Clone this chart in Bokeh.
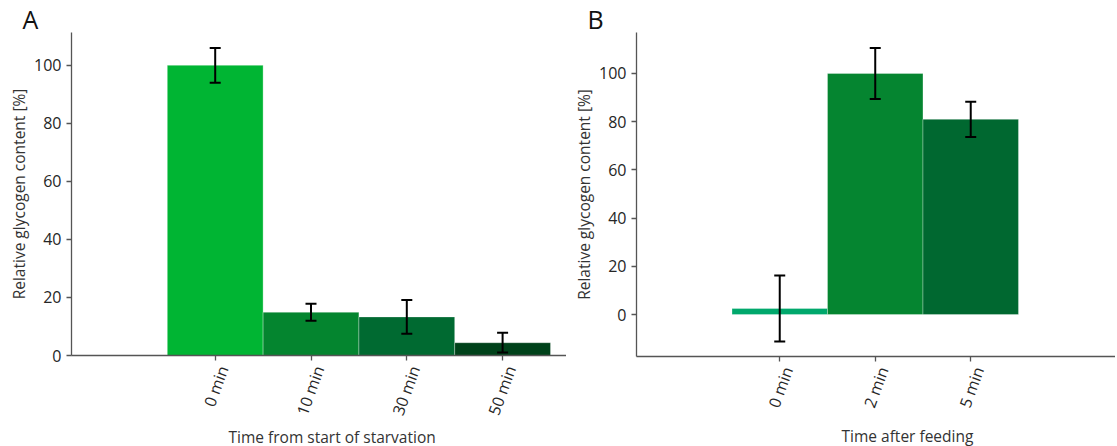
import math
from bokeh.plotting import figure
from bokeh.models import (ColumnDataSource, Whisker, TeeHead, FixedTicker, Range1d,
                          LinearAxis, Title)
from bokeh.layouts import row
from bokeh.embed import file_html
from bokeh.resources import INLINE

# Panel A data
cats_a = ["0 min", "10 min", "30 min", "50 min"]
vals_a = [100.0, 14.9, 13.3, 4.4]
err_a = [6.0, 2.9, 5.8, 3.4]
colors_a = ["#00b533", "#04852f", "#006a31", "#00421a"]

# Panel B data
cats_b = ["0 min", "2 min", "5 min"]
vals_b = [2.5, 100.0, 81.0]
err_b = [13.7, 10.6, 7.3]
colors_b = ["#00a86c", "#058530", "#006830"]

yticks = [0, 20, 40, 60, 80, 100]

FONT = "Open Sans"
TXT = "#262626"
AXC = "#555555"


def style_axis(ax):
    ax.axis_line_color = AXC
    ax.axis_line_width = 1.3
    ax.major_tick_line_color = AXC
    ax.major_tick_line_width = 1.3
    ax.major_tick_out = 5
    ax.major_tick_in = 0
    ax.minor_tick_line_color = None
    ax.major_label_text_font = FONT
    ax.major_label_text_font_size = "16px"
    ax.major_label_text_color = TXT
    ax.axis_label_text_font = FONT
    ax.axis_label_text_font_size = "15.5px"
    ax.axis_label_text_font_style = "normal"
    ax.axis_label_text_color = "#333333"


def panel(cats, vals, errs, colors, xlabel, letter, frame_w, frame_h,
          x_end, y_start, y_end, left, right, xlab_offset, xlab_standoff):
    idx = list(range(len(cats)))
    src = ColumnDataSource(dict(
        x=idx, top=vals,
        upper=[v + e for v, e in zip(vals, errs)],
        lower=[v - e for v, e in zip(vals, errs)],
        color=colors))
    x_start = -1.5
    px_per_unit = frame_w / (x_end - x_start)
    d = 8.0 / px_per_unit
    p = figure(frame_width=frame_w, frame_height=frame_h,
               x_range=Range1d(x_start, x_end), y_range=Range1d(y_start, y_end),
               output_backend="svg", toolbar_location=None,
               min_border_left=left, min_border_right=right,
               min_border_top=32, min_border_bottom=4)
    p.extra_x_ranges = {"lab": Range1d(x_start - d, x_end - d)}
    p.vbar(x="x", top="top", bottom=0, width=1.0, fill_color="color",
           line_color="white", line_alpha=0.3, line_width=1, source=src)
    w = Whisker(source=src, base="x", upper="upper", lower="lower",
                line_color="black", line_width=2, level="overlay",
                upper_head=TeeHead(size=11, line_color="black", line_width=2),
                lower_head=TeeHead(size=11, line_color="black", line_width=2))
    p.add_layout(w)

    p.xgrid.visible = False
    p.ygrid.visible = False
    p.outline_line_color = None

    # main x axis: line and tick marks only (tick marks drawn as minor ticks)
    xa = p.xaxis[0]
    style_axis(xa)
    xa.ticker = FixedTicker(ticks=[], minor_ticks=idx)
    xa.minor_tick_line_color = AXC
    xa.minor_tick_line_width = 1.3
    xa.minor_tick_out = 5
    xa.minor_tick_in = 0
    xa.major_label_standoff = 0

    # label axis (shifted so rotated labels are centred on ticks)
    la = LinearAxis(x_range_name="lab", ticker=FixedTicker(ticks=idx))
    style_axis(la)
    la.axis_line_color = None
    la.major_tick_line_color = None
    la.major_tick_out = 0
    la.major_label_overrides = {i: c for i, c in zip(idx, cats)}
    la.major_label_orientation = math.radians(70)
    la.major_label_standoff = 6
    p.add_layout(la, "below")

    xt = Title(text=xlabel, align="left", offset=xlab_offset,
               standoff=xlab_standoff, text_font=FONT, text_font_size="15.5px",
               text_font_style="normal", text_color="#333333")
    p.add_layout(xt, "below")

    ya = p.yaxis[0]
    style_axis(ya)
    ya.ticker = FixedTicker(ticks=yticks)
    ya.axis_label = "Relative glycogen content [%]"
    ya.major_label_standoff = 5
    ya.axis_label_standoff = 1

    p.title.text = letter
    p.title.text_font = FONT
    p.title.text_font_size = "25px"
    p.title.text_font_style = "normal"
    p.title.text_color = "#111111"
    p.title.align = "left"
    p.title.offset = -49
    p.title.standoff = -6
    return p


pa = panel(cats_a, vals_a, err_a, colors_a, "Time from start of starvation", "A",
           495, 323, 3.667, 0, 111.3, 71, 0, 157, -3)
pb = panel(cats_b, vals_b, err_b, colors_b, "Time after feeding", "B",
           479, 324, 3.516, -17.4, 117.0, 70, 0, 205, 10)

layout = row(pa, pb)
open("out.html", "w").write(file_html(layout, INLINE))
